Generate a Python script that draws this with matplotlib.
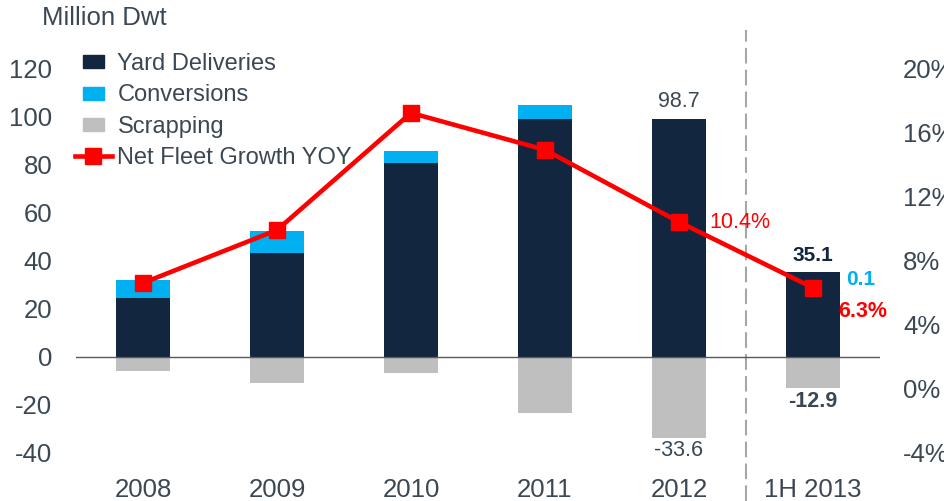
import numpy as np
import matplotlib.pyplot as plt
from matplotlib.patches import Patch, Rectangle
from matplotlib.lines import Line2D
from matplotlib.legend_handler import HandlerPatch

plt.rcParams['font.family'] = ['Liberation Sans', 'DejaVu Sans']
plt.rcParams['axes.unicode_minus'] = False

# data (million dwt, net growth in %)
years = ['2008', '2009', '2010', '2011', '2012', '1H 2013']
yard = [24.5, 43.0, 80.5, 99.0, 98.7, 35.1]
conversions = [7.5, 9.2, 5.0, 5.8, 0.0, 0.1]
scrapping = [-5.8, -10.8, -6.6, -23.2, -33.6, -12.9]
growth = [6.6, 9.9, 17.2, 14.9, 10.4, 6.3]

navy = '#13263f'
cyan = '#00b0f0'
grey = '#bfbfbf'
red = '#ff0000'
txt = '#3b4853'

fig = plt.figure(figsize=(9.45, 5.01), dpi=100)
ax = fig.add_axes([76/945, 48/501, 804/945, 385/501])
x = np.arange(len(years))
w = 0.4

ax.bar(x, yard, w, color=navy, zorder=2)
ax.bar(x, conversions, w, bottom=yard, color=cyan, zorder=2)
ax.bar(x, scrapping, w, color=grey, zorder=2)
ax.axhline(0, color='#595959', lw=1, zorder=3)

# dashed separator for the half-year
ax.plot([4.5, 4.5], [-60, 136], ls=(0, (7.5, 3)), color='#a6a6a6', lw=1.5, clip_on=False, zorder=1)

ax.set_xlim(-0.5, 5.5)
ax.set_ylim(-40, 120)
ax.set_yticks(np.arange(-40, 121, 20))
ax.set_xticks(x)
ax.set_xticklabels(years)
ax.tick_params(axis='y', length=0, pad=17, labelsize=18.5, labelcolor=txt)
ax.tick_params(axis='x', length=0, pad=18, labelsize=18.5, labelcolor=txt)
for s in ax.spines.values():
    s.set_visible(False)

ax2 = ax.twinx()
ax2.plot(x, growth, color=red, lw=3.3, marker='s', ms=11, zorder=5)
ax2.set_ylim(-4, 20)
ax2.set_yticks(np.arange(-4, 21, 4))
ax2.set_yticklabels([f'{v}%' for v in range(-4, 21, 4)])
ax2.tick_params(axis='y', length=0, pad=16.5, labelsize=18.5, labelcolor=txt)
for s in ax2.spines.values():
    s.set_visible(False)

# value labels for 2012 and 1H 2013
ax.text(4, yard[4] + 3, f'{yard[4]}', ha='center', va='bottom', fontsize=15.5, color=txt)
ax.text(4, scrapping[4] - 1, f'{scrapping[4]}', ha='center', va='top', fontsize=15.5, color=txt)
ax2.text(4.23, growth[4], f'{growth[4]}%', ha='left', va='center', fontsize=15.5, color=red)
ax.text(5, yard[5] + 3, f'{yard[5]}', ha='center', va='bottom', fontsize=15, color=navy, fontweight='bold')
ax.text(5.25, yard[5] - 3, f'{conversions[5]}', ha='left', va='center', fontsize=15, color=cyan, fontweight='bold')
ax2.text(5.19, growth[5] - 1.5, f'{growth[5]}%', ha='left', va='center', fontsize=15.5, color=red, fontweight='bold')
ax.text(5, scrapping[5] - 1.5, f'{scrapping[5]}', ha='center', va='top', fontsize=15.5, color=txt, fontweight='bold')

fig.text(42/945, 1 - 18/501, 'Million Dwt', ha='left', va='center', fontsize=18.5, color=txt)


def small_box(legend, orig_handle, xdescent, ydescent, width, height, fontsize):
    bw, bh = 15, 9.5
    return Rectangle((-xdescent + (width - bw) / 2, -ydescent + (height - bh) / 2), bw, bh)


handles = [Patch(color=navy), Patch(color=cyan), Patch(color=grey),
           Line2D([], [], color=red, lw=3.3, marker='s', ms=11)]
labels = ['Yard Deliveries', 'Conversions', 'Scrapping', 'Net Fleet Growth YOY']
leg = ax2.legend(handles, labels, loc='upper left', bbox_to_anchor=(75/945, 1 - 53/501),
                 bbox_transform=fig.transFigure, frameon=False, fontsize=17,
                 labelspacing=0.4, handlelength=1.55, handletextpad=0.25, borderpad=0,
                 borderaxespad=0,
                 handler_map={Patch: HandlerPatch(patch_func=small_box)})
for t in leg.get_texts():
    t.set_color(txt)

fig.savefig('out.png', dpi=100)
